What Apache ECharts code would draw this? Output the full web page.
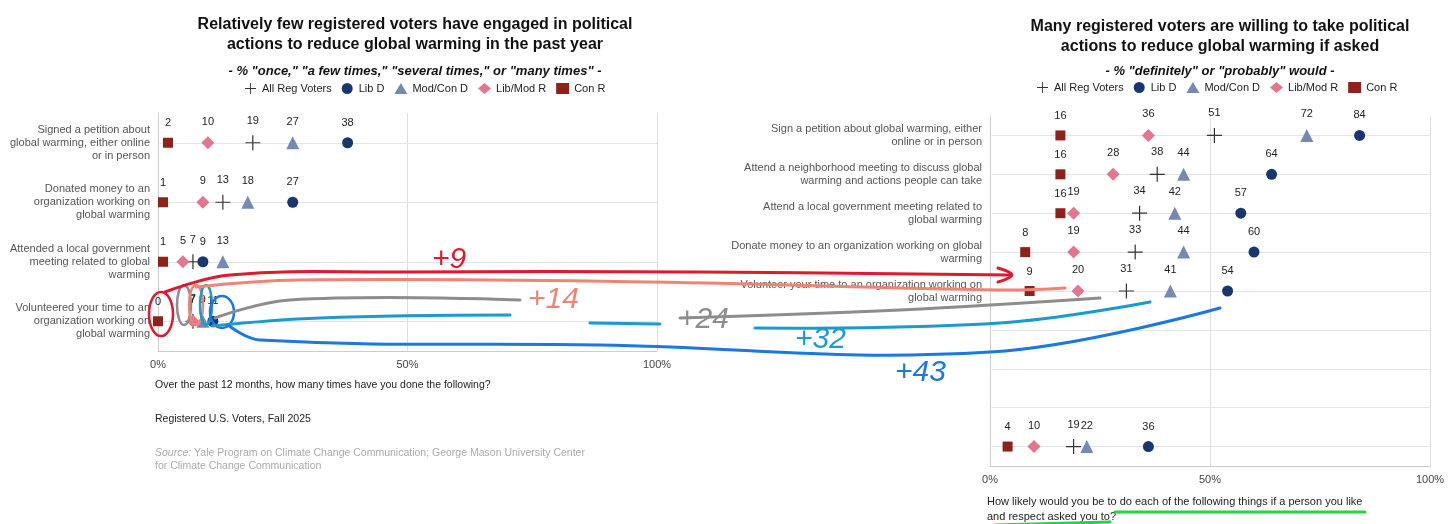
<!DOCTYPE html>
<html><head><meta charset="utf-8">
<script src="https://cdn.jsdelivr.net/npm/echarts@6/dist/echarts.min.js"></script>
<style>html,body{margin:0;background:#fff}#c{width:1456px;height:524px}</style>
</head><body><div id="c"></div>
<script>
// left panel: past-year actions
var leftCats = ['Signed a petition about\nglobal warming, either online\nor in person', 'Donated money to an\norganization working on\nglobal warming', 'Attended a local government\nmeeting related to global\nwarming', 'Volunteered your time to an\norganization working on\nglobal warming'];
var leftAll = [19, 13, 7, 7];
var leftLibD = [38, 27, 9, 11];
var leftModD = [27, 18, 13, 9];
var leftLibR = [10, 9, 5, 7];
var leftConR = [2, 1, 1, 0];

// right panel: willing if asked (3 rows erased in the picture)
var rightCats = ['Sign a petition about global warming, either\nonline or in person', 'Attend a neighborhood meeting to discuss global\nwarming and actions people can take', 'Attend a local government meeting related to\nglobal warming', 'Donate money to an organization working on global\nwarming', 'Volunteer your time to an organization working on\nglobal warming', ' ', '  ', '   ', '    '];
var rightAll = [51, 38, 34, 33, 31, null, null, null, 19];
var rightLibD = [84, 64, 57, 60, 54, null, null, null, 36];
var rightModD = [72, 44, 42, 44, 41, null, null, null, 22];
var rightLibR = [36, 28, 19, 19, 20, null, null, null, 10];
var rightConR = [16, 16, 16, 8, 9, null, null, null, 4];

var xTicks = ['0%', '50%', '100%'];
var groups = ['All Reg Voters', 'Lib D', 'Mod/Con D', 'Lib/Mod R', 'Con R'];
var cross = 'path://M4.6,0 L5.4,0 L5.4,10 L4.6,10 Z M0,4.6 L10,4.6 L10,5.4 L0,5.4 Z';
var styles = [
    {symbol: cross, size: 15, color: '#333'},
    {symbol: 'circle', size: 11, color: '#17376e'},
    {symbol: 'triangle', size: 13, color: '#7489b3'},
    {symbol: 'diamond', size: 13, color: '#e5758c'},
    {symbol: 'rect', size: 10, color: '#8e2119'}
];

function mkSeries(idx, arrs, cats) {
    return arrs.map(function (arr, i) {
        var s = {
            name: groups[i], type: 'scatter', xAxisIndex: idx, yAxisIndex: idx,
            symbol: styles[i].symbol, symbolSize: styles[i].size,
            itemStyle: {color: styles[i].color, opacity: 1}, z: 3,
            data: arr.map(function (v, k) { return v == null ? null : [v, k]; }),
            label: {show: true, position: 'top', distance: 9, color: '#222', fontSize: 11,
                formatter: function (p) { return p.value[0]; }}
        };
        if (i === 0) {
            s.markLine = {silent: true, symbol: 'none', label: {show: false}, z: 1,
                lineStyle: {color: '#e4e4e4', type: 'solid', width: 1},
                data: cats.map(function (c) { return {yAxis: c}; })};
        }
        return s;
    });
}

function xAxis(idx) {
    return {
        gridIndex: idx, type: 'value', min: 0, max: 100, interval: 50,
        axisLabel: {formatter: function (v) { return xTicks[v / 50]; }, color: '#444', fontSize: 11},
        axisLine: {show: true, lineStyle: {color: '#ccc'}}, axisTick: {show: false},
        splitLine: {show: true, lineStyle: {color: '#ddd'}}
    };
}
function yAxis(idx, cats) {
    return {
        gridIndex: idx, type: 'category', data: cats, inverse: true,
        axisLine: {show: true, lineStyle: {color: '#ccc'}}, axisTick: {show: false},
        axisLabel: {color: '#555', fontSize: 11, lineHeight: 13, margin: 8, interval: 0},
        splitLine: {show: false}
    };
}

var chart = echarts.init(document.getElementById('c'));
var titleStyle = {fontSize: 16, fontWeight: 'bold', color: '#111', lineHeight: 20, align: 'center'};
var subStyle = {fontSize: 13, fontWeight: 'bold', fontStyle: 'italic', color: '#111'};

function hand(points, color) {
    return {type: 'polyline', shape: {points: points, smooth: 0.4}, z: 100,
        style: {stroke: color, lineWidth: 3, fill: null, lineCap: 'round'}};
}
function ring(cx, cy, rx, ry, color) {
    return {type: 'ellipse', shape: {cx: cx, cy: cy, rx: rx, ry: ry}, z: 100,
        style: {stroke: color, lineWidth: 2.5, fill: null}};
}
function tag(x, y, t, color) {
    return {type: 'text', x: x, y: y, z: 100,
        style: {text: t, fill: color, font: 'italic 30px "Liberation Sans"'}};
}

chart.setOption({
    textStyle: {fontFamily: '"Liberation Sans", Arial, sans-serif'},
    title: [
        {text: 'Relatively few registered voters have engaged in political\nactions to reduce global warming in the past year', left: 410, top: 10, textAlign: 'center', textStyle: titleStyle},
        {text: '- % "once," "a few times," "several times," or "many times" -', left: 410, top: 60, textAlign: 'center', textStyle: subStyle},
        {text: 'Many registered voters are willing to take political\nactions to reduce global warming if asked', left: 1215, top: 12, textAlign: 'center', textStyle: titleStyle},
        {text: '- % "definitely" or "probably" would -', left: 1215, top: 60, textAlign: 'center', textStyle: subStyle}
    ],
    legend: [
        {data: groups, left: 240, top: 78, itemWidth: 13, itemHeight: 11, itemGap: 10, textStyle: {fontSize: 11, color: '#222'}},
        {data: groups, left: 1032, top: 77, itemWidth: 13, itemHeight: 11, itemGap: 10, textStyle: {fontSize: 11, color: '#222'}}
    ],
    grid: [
        {left: 158, width: 499, top: 113, bottom: 173},
        {left: 990, width: 440, top: 116, bottom: 58}
    ],
    xAxis: [xAxis(0), xAxis(1)],
    yAxis: [yAxis(0, leftCats), yAxis(1, rightCats)],
    series: mkSeries(0, [leftAll, leftLibD, leftModD, leftLibR, leftConR], leftCats)
        .concat(mkSeries(1, [rightAll, rightLibD, rightModD, rightLibR, rightConR], rightCats)),
    graphic: [
        {type: 'text', left: 155, top: 380, style: {text: 'Over the past 12 months, how many times have you done the following?', fill: '#222', font: '10.5px "Liberation Sans"'}},
        {type: 'text', left: 155, top: 414, style: {text: 'Registered U.S. Voters, Fall 2025', fill: '#222', font: '10.5px "Liberation Sans"'}},
        {type: 'text', left: 155, top: 447, style: {text: '{i|Source:} Yale Program on Climate Change Communication; George Mason University Center\nfor Climate Change Communication', fill: '#aaa', font: '10.5px "Liberation Sans"', lineHeight: 13, rich: {i: {fontStyle: 'italic', fill: '#aaa', fontSize: 10.5}}}},
        {type: 'text', left: 987, top: 494, style: {text: 'How likely would you be to do each of the following things if a person you like\nand respect asked you to?', fill: '#222', font: '11px "Liberation Sans"', lineHeight: 15}},
        hand([[1115, 512], [1365, 512]], '#2bd04a'),
        hand([[995, 525], [1110, 522]], '#2bd04a'),
        ring(161, 314, 12, 22, '#e0192f'),
        ring(184, 305, 7, 20, '#8d8d8d'),
        ring(196, 305, 7, 20, '#f08474'),
        ring(206, 305, 6, 20, '#1a9bd0'),
        ring(222, 312, 12, 16, '#1a78e0'),
        hand([[165, 292], [230, 275], [400, 272], [700, 272], [1010, 275]], '#e0192f'),
        hand([[998, 268], [1012, 275], [998, 282]], '#e0192f'),
        hand([[196, 287], [300, 280], [650, 282], [1000, 290], [1065, 288]], '#f08474'),
        hand([[215, 318], [290, 300], [520, 300]], '#8d8d8d'),
        hand([[680, 318], [900, 310], [1100, 298]], '#8d8d8d'),
        hand([[212, 326], [320, 318], [510, 315]], '#1a9bd0'),
        hand([[590, 323], [660, 324]], '#1a9bd0'),
        hand([[755, 328], [1000, 323], [1150, 302]], '#1a9bd0'),
        hand([[228, 325], [260, 340], [600, 345], [990, 352], [1220, 308]], '#1a78e0'),
        tag(432, 245, '+9', '#e0192f'),
        tag(528, 285, '+14', '#f08474'),
        tag(678, 305, '+24', '#8d8d8d'),
        tag(795, 325, '+32', '#1a9bd0'),
        tag(895, 358, '+43', '#1a78e0')
    ]
});
</script>
</body></html>
